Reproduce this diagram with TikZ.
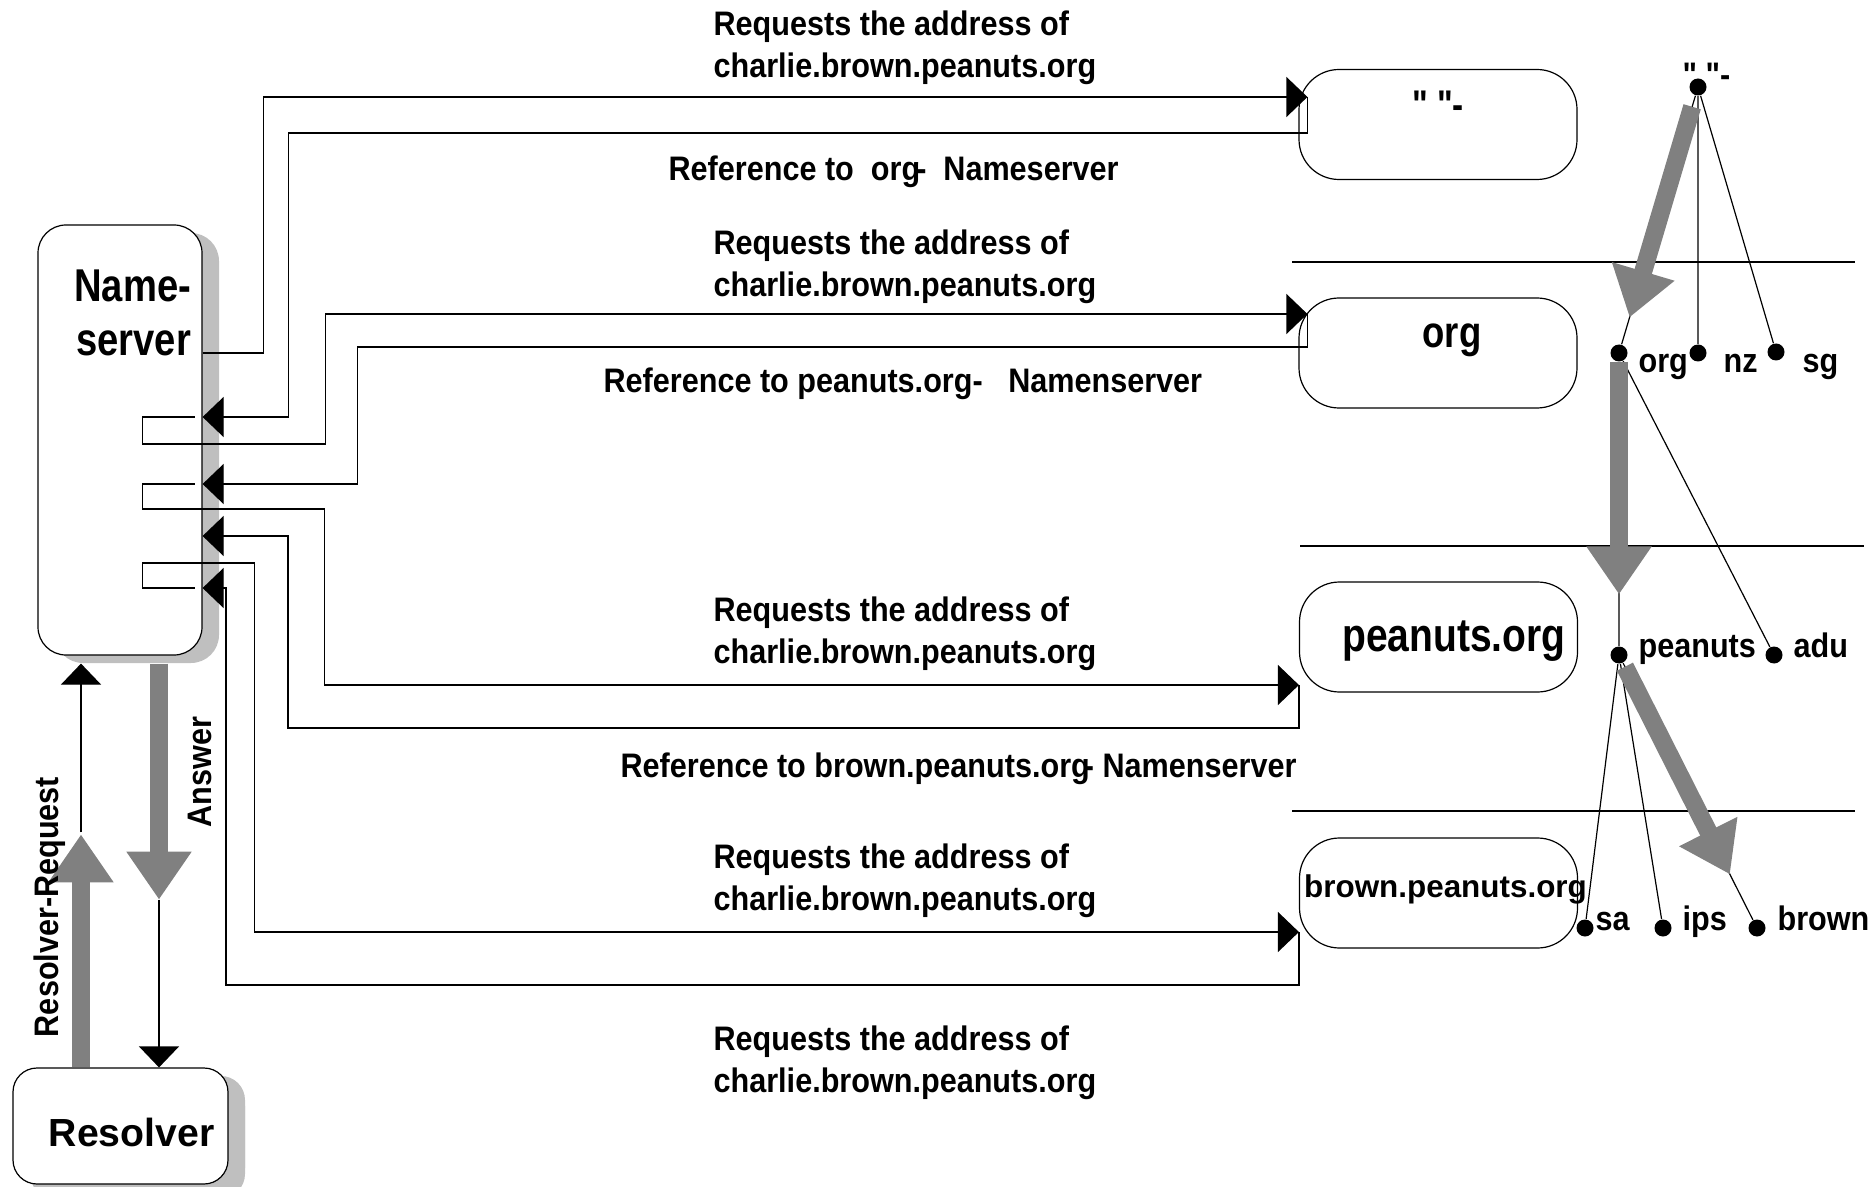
\documentclass[tikz,border=0pt]{standalone}
\usepackage{fontspec}
\setmainfont{Liberation Sans}
\newfontfamily\narrowfont{Liberation Sans}[FakeStretch=0.83]
\newfontfamily\lblfamily{Liberation Sans}[FakeStretch=0.9]
\usepackage{tikz}
\usetikzlibrary{arrows.meta,shadows}
\definecolor{arrowgray}{gray}{0.5}
\definecolor{shadowgray}{gray}{0.75}
\newcommand{\lbl}{\lblfamily\fontsize{17}{21}\selectfont\bfseries}

\begin{document}
\begin{tikzpicture}[x=0.5pt,y=-0.5pt,line width=0.6pt,
    >={Triangle[length=10.5pt,width=20pt]},
    srvbox/.style={draw,fill=white,rounded corners=20pt,minimum width=139pt,minimum height=55pt,inner sep=0pt},
    nsbox/.style={draw,fill=white,inner sep=0pt,
      drop shadow={shadow xshift=8.5pt,shadow yshift=-4pt,fill=shadowgray,opacity=1}},
    txt/.style={inner sep=0pt,font=\lbl},
    dot/.style={circle,fill,inner sep=0pt,minimum size=8.5pt},
    bigarrow/.style={draw=arrowgray,line width=9pt,-{Triangle[length=24pt,width=31pt]}}]
       \useasboundingbox (0,0) rectangle (1873,1187);
       % nameserver and resolver
       \node[nsbox,rounded corners=14pt,minimum width=82pt,minimum height=215pt] (ns) at (120,440) {};
       \node[anchor=north east,inner sep=0pt,align=right,
         font=\narrowfont\fontsize{23}{27}\selectfont\bfseries] (nstext) at ([shift={(-5.5pt,-22.5pt)}]ns.north east) {Name-\\server};
       \node[nsbox,rounded corners=12pt,minimum width=107.5pt,minimum height=58pt,
         drop shadow={shadow xshift=8.5pt,shadow yshift=-7pt,fill=shadowgray,opacity=1}] (res) at (120.5,1126) {};
       \node[anchor=base,inner sep=0pt,font=\fontsize{19.6}{24}\selectfont\bfseries] (restext) at ([shift={(5.5pt,-10pt)}]res.center) {Resolver};

       % the four servers
       \node[srvbox] (root) at (1438,124.5) {};
       \node[srvbox] (org) at (1438,353) {};
       \node[srvbox] (pea) at (1438.5,637) {};
       \node[srvbox] (brn) at (1438.5,893) {};
       \node[anchor=base,inner sep=0pt,font=\narrowfont\fontsize{20}{24}\selectfont\bfseries] (roottext) at ([yshift=-25pt]root.north) {" "-};
       \node[anchor=base,inner sep=0pt,font=\narrowfont\fontsize{22}{26}\selectfont\bfseries] (orgtext) at ([shift={(7pt,-25pt)}]org.north) {org};
       \node[anchor=base,inner sep=0pt,font=\narrowfont\fontsize{23.5}{28}\selectfont\bfseries] (peatext) at ([shift={(7.75pt,-35pt)}]pea.north) {peanuts.org};
       \node[anchor=base,inner sep=0pt,font=\fontsize{15.7}{19}\selectfont\bfseries] (brntext) at ([shift={(3.5pt,-30pt)}]brn.north) {brown.peanuts.org};

       \coordinate (rootin) at ([shift={(4.5pt,13.75pt)}]root.west);
       \coordinate (orgin) at ([shift={(4.5pt,19.5pt)}]org.west);
       \coordinate (peain) at ([yshift=-24pt]pea.west);
       \coordinate (brnin) at ([yshift=-19.5pt]brn.west);
       \coordinate (q0) at ([yshift=43.5pt]ns.east);
       \coordinate (a0) at ([yshift=11.5pt]ns.east);
       \coordinate (a1) at ([yshift=-22pt]ns.east);
       \coordinate (a2) at ([yshift=-48pt]ns.east);
       \coordinate (a3) at ([yshift=-74pt]ns.east);

       % iterative queries
       \draw[->] (q0) -- ++(61,0) |- (rootin);
       \draw[->] (rootin) -- ++(0,36) -- ++(-1019,0) |- (a0);
       \draw[->] ([xshift=-4pt]a0) -- ++(-52,0) -- ++(0,27) -- ++(183,0) |- (orgin);
       \draw[->] (orgin) -- ++(0,33) -- ++(-950,0) |- (a1);
       \draw[->] ([xshift=-4pt]a1) -- ++(-52,0) -- ++(0,25) -- ++(182,0) |- (peain);
       \draw[->] (peain) -- ++(0,43) -- ++(-1011,0) |- (a2);
       \draw[->] (brnin) -- ++(0,53) -- ++(-1073,0) |- (a3);
       \draw[->] ([xshift=-4pt]a3) -- ++(-52,0) -- ++(0,-25) -- ++(112,0) |- (brnin);

       \node[txt,anchor=north west,align=left] (rq1) at (713,10) {Requests the address of\\charlie.brown.peanuts.org};
       \node[txt,anchor=base west] (rf1) at (668,181) {Reference to\ \ org\kern-2pt-\ \ Nameserver};
       \node[txt,anchor=north west,align=left] (rq2) at (713,229) {Requests the address of\\charlie.brown.peanuts.org};
       \node[txt,anchor=base west] (rf2) at (603,393) {Reference to peanuts.org-\ \ \ Namenserver};
       \node[txt,anchor=north west,align=left] (rq3) at (713,596) {Requests the address of\\charlie.brown.peanuts.org};
       \node[txt,anchor=base west] (rf3) at (620,777) {Reference to brown.peanuts.org\kern-3pt- Namenserver};
       \node[txt,anchor=north west,align=left] (rq4) at (713,843) {Requests the address of\\charlie.brown.peanuts.org};
       \node[txt,anchor=north west,align=left] (rq5) at (713,1025) {Requests the address of\\charlie.brown.peanuts.org};

       % resolver <-> nameserver
       \draw[bigarrow] ([xshift=-19.75pt]res.north) -- ++(0,-233);
       \draw[->] ([xshift=-19.75pt]res.north) ++(0,-235) -- ([shift={(-19.5pt,-4pt)}]ns.south);
       \draw[bigarrow] ([shift={(19.5pt,-4pt)}]ns.south) -- ++(0,236);
       \draw[->] ([shift={(19.5pt,-4pt)}]ns.south) ++(0,236) -- ([xshift=19.25pt]res.north);
       \node[txt,rotate=90] (rqlabel) at (50,907) {Resolver-Request};
       \node[txt,rotate=90] (anslabel) at (200,772) {Answer};

       % name tree
       \draw (1292,262) -- (1855,262);
       \draw (1300,546) -- (1864,546);
       \draw (1292,811) -- (1855,811);
       \node[dot] (t0) at (1698,87) {};
       \node[dot] (torg) at (1619,353) {};
       \node[dot] (tnz) at (1698,353) {};
       \node[dot] (tsg) at (1776,352) {};
       \node[dot] (tpea) at (1619,655) {};
       \node[dot] (tadu) at (1774,655) {};
       \node[dot] (tsa) at (1585,928) {};
       \node[dot] (tips) at (1663,928) {};
       \node[dot] (tbrn) at (1757,928) {};
       \draw (t0) -- (torg) (t0) -- (tnz) (t0) -- (tsg)
         (torg) -- (tpea) (torg) -- (tadu)
         (tpea) -- (tsa) (tpea) -- (tips) (tpea) -- (tbrn);
       \draw[bigarrow,shorten <=5.75pt,shorten >=14pt] (t0) -- (torg);
       \draw[bigarrow,shorten >=25.75pt] (torg) -- (tpea);
       \draw[bigarrow,shorten <=2pt,shorten >=25.5pt] (tpea) -- (tbrn);
       \node[txt,anchor=base west] (l0) at ([shift={(-8pt,0pt)}]t0.center) {" "-};
       \node[txt,anchor=base west] (lorg) at ([shift={(9.5pt,-9.5pt)}]torg.center) {org};
       \node[txt,anchor=base west] (lnz) at ([shift={(12.5pt,-9.5pt)}]tnz.center) {nz};
       \node[txt,anchor=base west] (lsg) at ([shift={(13pt,-10pt)}]tsg.center) {sg};
       \node[txt,anchor=base west] (lpea) at ([shift={(9.5pt,-1pt)}]tpea.center) {peanuts};
       \node[txt,anchor=base west] (ladu) at ([shift={(9.5pt,-1pt)}]tadu.center) {adu};
       \node[txt,anchor=base west] (lsa) at ([shift={(5pt,-1pt)}]tsa.center) {sa};
       \node[txt,anchor=base west] (lips) at ([shift={(9.5pt,-1pt)}]tips.center) {ips};
       \node[txt,anchor=base west] (lbrn) at ([shift={(10pt,-1pt)}]tbrn.center) {brown};
      \end{tikzpicture}
\end{document}
